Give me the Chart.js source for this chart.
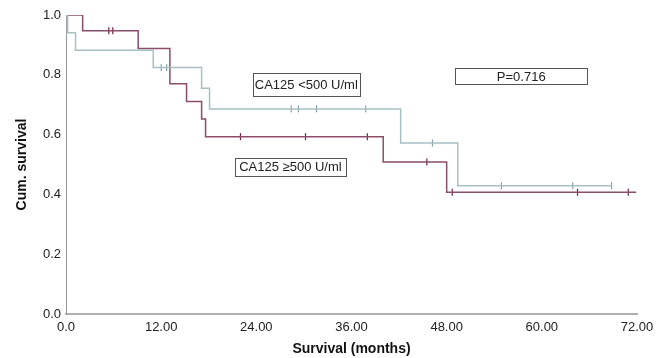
<!DOCTYPE html>
<html>
<head>
<meta charset="utf-8">
<script src="https://cdn.jsdelivr.net/npm/chart.js@4.4.0/dist/chart.umd.min.js"></script>
<style>
  html, body { margin: 0; padding: 0; background: #fff; }
  #wrap { width: 665px; height: 358px; }
</style>
</head>
<body>
<div id="wrap"><canvas id="kmChart" width="665" height="358"></canvas></div>
<script>
// CA125 <500 U/ml - event times (months) and survival after each step
const lowTimes = [0, 0.2, 1.2, 11.0, 17.1, 18.1, 42.2, 49.4, 68.8];
const lowSurv = [1.0, 0.941, 0.882, 0.824, 0.755, 0.686, 0.572, 0.429, 0.429];
const lowCensorTimes = [12.0, 12.7, 28.4, 29.3, 31.6, 37.8, 46.2, 54.9, 63.9, 68.8];
const lowCensorSurv = [0.824, 0.824, 0.686, 0.686, 0.686, 0.686, 0.572, 0.429, 0.429, 0.429];

// CA125 >=500 U/ml
const highTimes = [0, 2.1, 9.1, 13.1, 15.2, 17.1, 17.6, 40.0, 48.0, 71.9];
const highSurv = [1.0, 0.947, 0.888, 0.770, 0.711, 0.652, 0.593, 0.508, 0.407, 0.407];
const highCensorTimes = [5.4, 5.9, 22.0, 30.2, 38.0, 45.5, 48.7, 64.5, 70.9];
const highCensorSurv = [0.947, 0.947, 0.593, 0.593, 0.593, 0.508, 0.407, 0.407, 0.407];

// axis ticks
const xTicks = [0, 12, 24, 36, 48, 60, 72];
const xTickLabels = ['0.0', '12.00', '24.00', '36.00', '48.00', '60.00', '72.00'];
const yTicks = [0, 0.2, 0.4, 0.6, 0.8, 1.0];
const yTickLabels = ['0.0', '0.2', '0.4', '0.6', '0.8', '1.0'];

// text boxes: label, x (months), y (survival), width, height
const boxes = [
    { text: 'CA125 <500 U/ml', x: 30.3, y: 0.768, w: 107, h: 23 },
    { text: 'CA125 \u2265500 U/ml', x: 28.3, y: 0.492, w: 111, h: 18 },
    { text: 'P=0.716', x: 57.4, y: 0.796, w: 132, h: 16 }
];

const maroon = '#8c4d6a';
const maroonMark = '#6e2446';
const teal = '#a8c0c4';
const tealMark = '#6f909c';

function toPoints(xs, ys) {
    return xs.map((x, i) => ({ x: x, y: ys[i] }));
}

const boxPlugin = {
    id: 'boxes',
    afterDatasetsDraw(chart) {
        const ctx = chart.ctx;
        const sx = chart.scales.x, sy = chart.scales.y;
        ctx.save();
        ctx.font = '13px "Liberation Sans", Arial, sans-serif';
        ctx.textAlign = 'center';
        ctx.textBaseline = 'middle';
        boxes.forEach(b => {
            const cx = sx.getPixelForValue(b.x);
            const cy = sy.getPixelForValue(b.y);
            ctx.fillStyle = '#fff';
            ctx.fillRect(Math.round(cx - b.w / 2) + 0.5, Math.round(cy - b.h / 2) + 0.5, b.w, b.h);
            ctx.strokeStyle = '#555';
            ctx.lineWidth = 1;
            ctx.strokeRect(Math.round(cx - b.w / 2) + 0.5, Math.round(cy - b.h / 2) + 0.5, b.w, b.h);
            ctx.fillStyle = '#222';
            ctx.fillText(b.text, cx, cy + 1);
        });
        ctx.restore();
    }
};

const ctx = document.getElementById('kmChart').getContext('2d');
const kmChart = new Chart(ctx, {
    type: 'line',
    data: {
        datasets: [
            {
                label: 'CA125 <500 U/ml',
                data: toPoints(lowTimes, lowSurv),
                borderColor: teal,
                borderWidth: 1.5,
                stepped: 'before',
                pointRadius: 0,
                fill: false
            },
            {
                label: 'CA125 >=500 U/ml',
                data: toPoints(highTimes, highSurv),
                borderColor: maroon,
                borderWidth: 1.5,
                stepped: 'before',
                pointRadius: 0,
                fill: false
            },
            {
                type: 'scatter',
                label: 'censored low',
                data: toPoints(lowCensorTimes, lowCensorSurv),
                pointStyle: 'line',
                rotation: 90,
                pointRadius: 3.5,
                borderColor: tealMark,
                borderWidth: 1,
                showLine: false
            },
            {
                type: 'scatter',
                label: 'censored high',
                data: toPoints(highCensorTimes, highCensorSurv),
                pointStyle: 'line',
                rotation: 90,
                pointRadius: 3.5,
                borderColor: maroonMark,
                borderWidth: 1.2,
                showLine: false
            }
        ]
    },
    options: {
        responsive: false,
        animation: false,
        layout: {
            padding: { top: 15, right: 28, left: 0, bottom: 0 }
        },
        plugins: {
            legend: { display: false },
            tooltip: { enabled: false }
        },
        scales: {
            x: {
                type: 'linear',
                min: 0,
                max: 72,
                afterBuildTicks: function(scale) {
                    scale.ticks = xTicks.map(v => ({ value: v }));
                },
                afterFit: function(scale) {
                    scale.height = 44;
                },
                ticks: {
                    callback: function(value) {
                        return xTickLabels[xTicks.indexOf(value)];
                    },
                    color: '#222',
                    padding: 6,
                    maxRotation: 0,
                    font: { family: '"Liberation Sans", Arial, sans-serif', size: 13 }
                },
                grid: { display: false, drawTicks: false },
                border: { display: true, color: '#b0b0b0', width: 2 },
                title: {
                    display: true,
                    text: 'Survival (months)',
                    color: '#111',
                    padding: { top: 2, bottom: 0 },
                    font: { family: '"Liberation Sans", Arial, sans-serif', size: 14, weight: 'bold' }
                }
            },
            y: {
                type: 'linear',
                min: 0,
                max: 1,
                afterBuildTicks: function(scale) {
                    scale.ticks = yTicks.map(v => ({ value: v }));
                },
                afterFit: function(scale) {
                    scale.width = 66;
                },
                ticks: {
                    callback: function(value) {
                        return yTickLabels[yTicks.indexOf(value)];
                    },
                    color: '#222',
                    padding: 5,
                    font: { family: '"Liberation Sans", Arial, sans-serif', size: 13 }
                },
                grid: { display: false, drawTicks: false },
                border: { display: true, color: '#999', width: 1 },
                title: {
                    display: true,
                    text: 'Cum. survival',
                    color: '#111',
                    padding: { top: 14, bottom: 4 },
                    font: { family: '"Liberation Sans", Arial, sans-serif', size: 14, weight: 'bold' }
                }
            }
        }
    },
    plugins: [boxPlugin]
});
</script>
</body>
</html>
